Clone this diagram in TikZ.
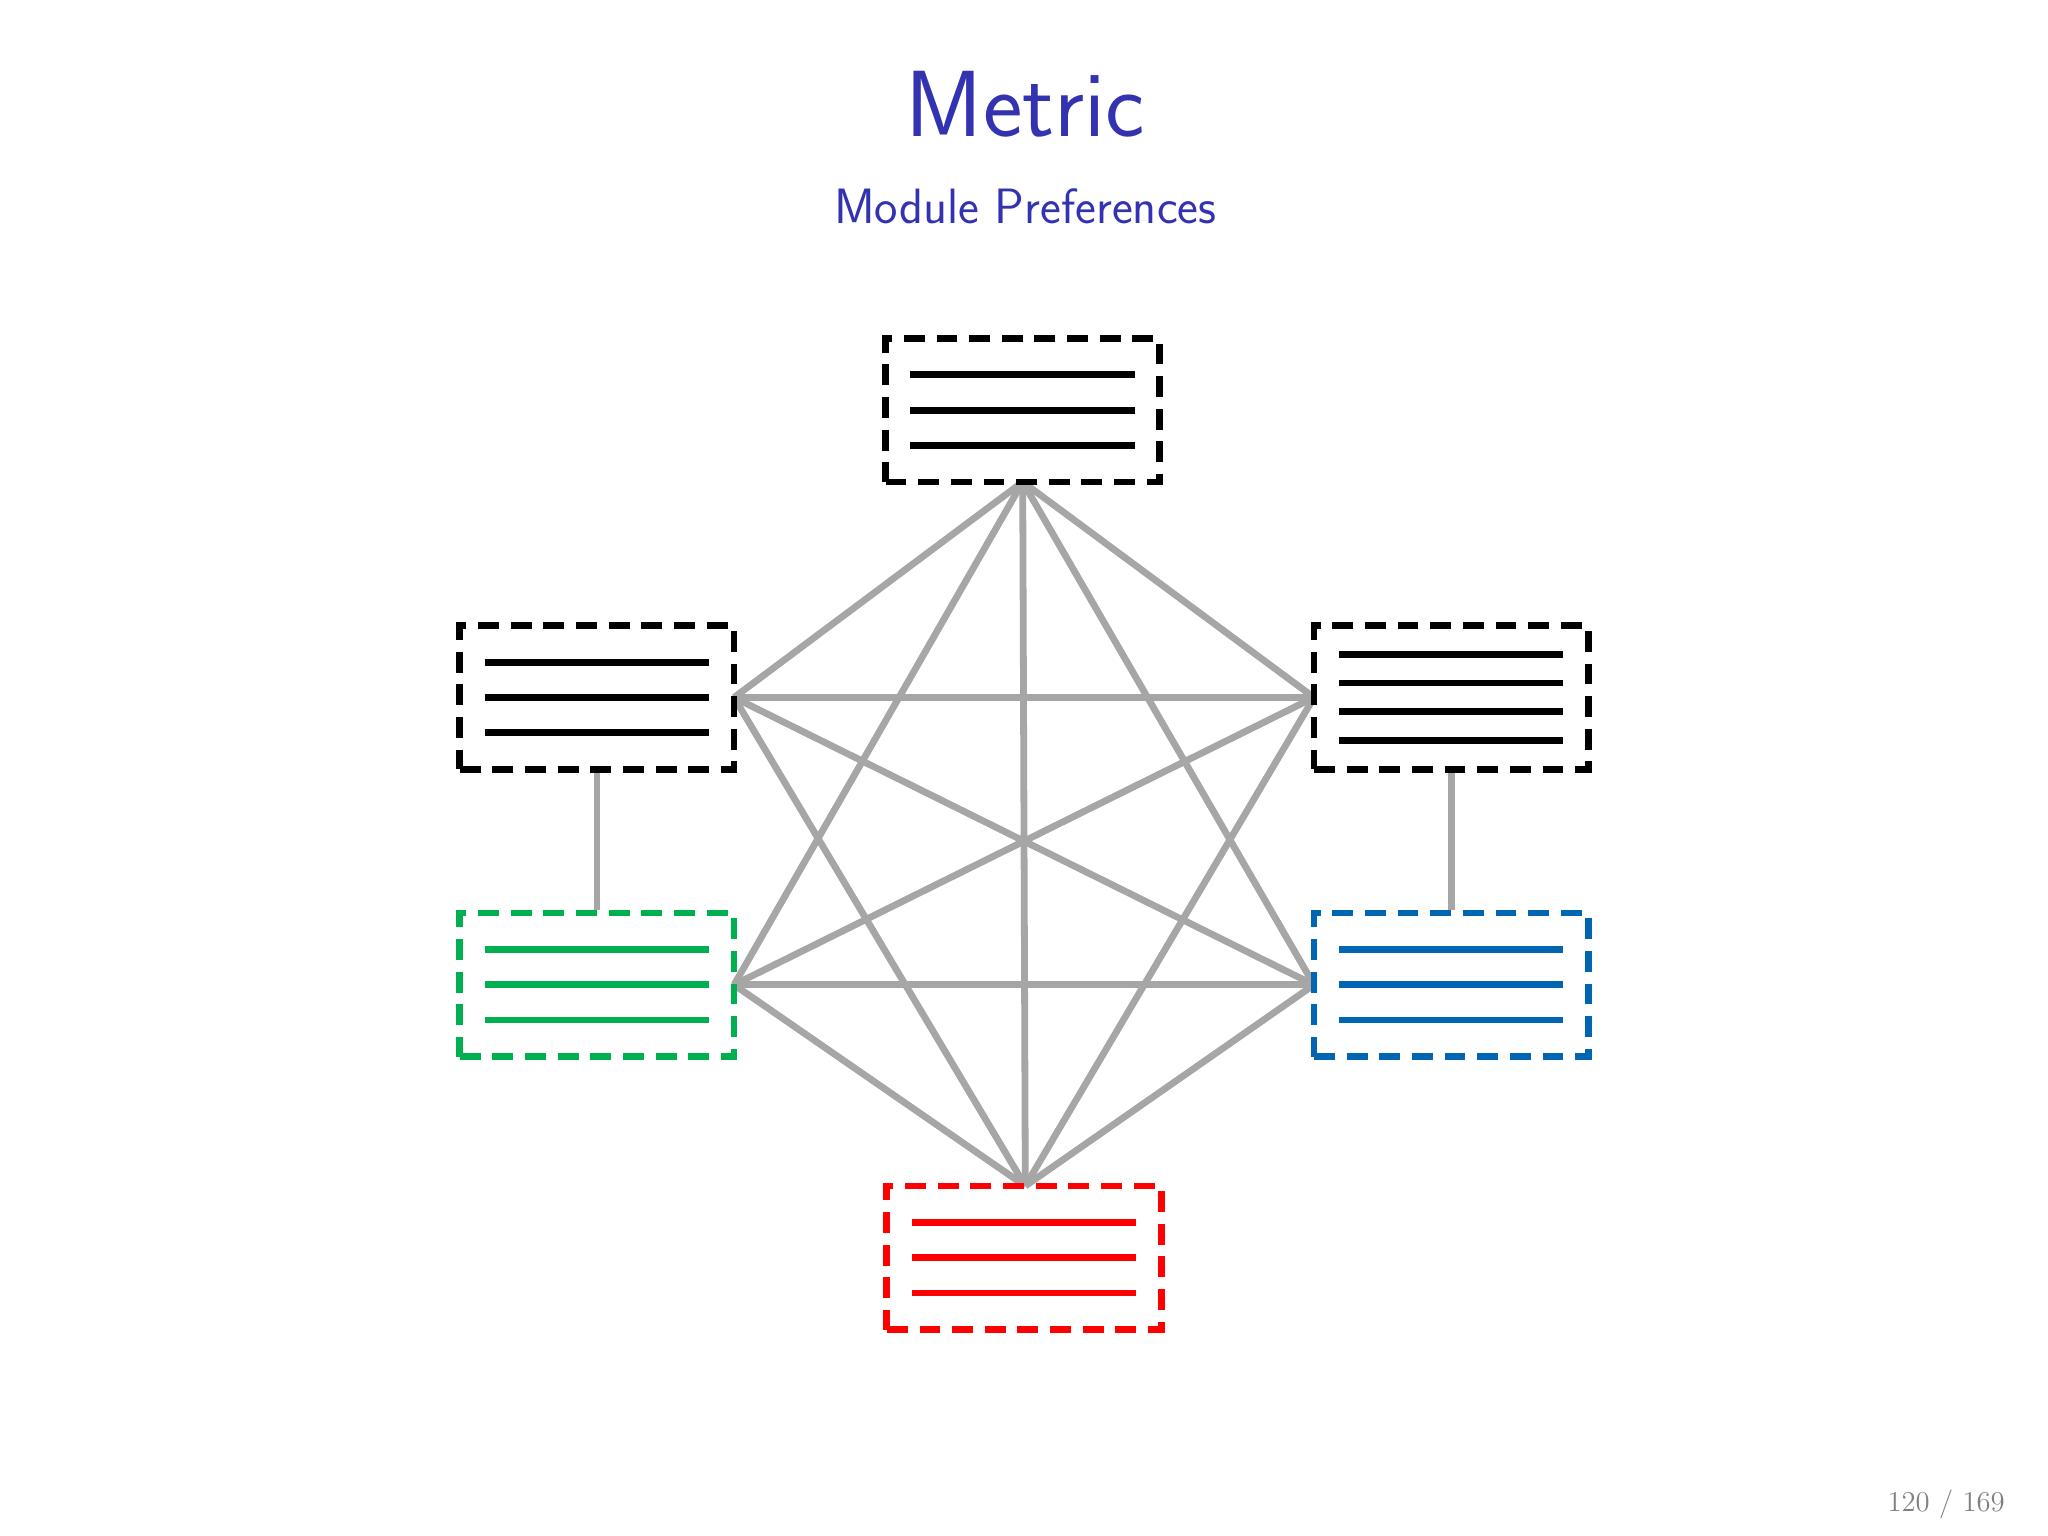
\documentclass[tikz,border=0pt]{standalone}
\usepackage{xcolor}
\definecolor{btitle}{RGB}{51,51,178}
\definecolor{edgegray}{RGB}{166,166,166}
\definecolor{mgreen}{RGB}{0,176,80}
\definecolor{mblue}{RGB}{0,102,180}
\definecolor{mred}{RGB}{255,0,0}
\begin{document}
\begin{tikzpicture}[x=0.5pt,y=-0.5pt,
  modbox/.style={draw=#1,line width=2.6pt,dash pattern=on 8pt off 4.5pt,minimum width=105pt,minimum height=55pt,inner sep=0pt},
  txtline/.style={draw=#1,line width=2.6pt},
  conn/.style={draw=edgegray,line width=2.6pt}]
\useasboundingbox (0,0) rectangle (1568,1176);
\node[font=\sffamily\fontsize{36}{40}\selectfont,text=btitle] (title) at (785,80) {Metric};
\node[font=\sffamily\fontsize{19}{22}\selectfont,text=btitle] (sub) at (785,158) {Module Preferences};
\node[font=\fontsize{11}{13}\selectfont,text=gray] (pg) at (1490,1152) {120 / 169};
% edges first
\coordinate (T) at (783,369);
\coordinate (L) at (562,534);
\coordinate (R) at (1006,534);
\coordinate (G) at (562,754);
\coordinate (B) at (1006,754);
\coordinate (D) at (785,908);
\foreach \a/\b in {T/L,T/R,T/G,T/B,T/D,L/R,L/B,L/D,R/G,R/D,G/B,G/D,B/D}
  \draw[conn] (\a) -- (\b);
\node[modbox=black] (top) at (783,314) {};
\node[modbox=black] (lu) at (457,534) {};
\node[modbox=black] (ru) at (1111,534) {};
\node[modbox=mgreen] (gr) at (457,754) {};
\node[modbox=mblue] (bl) at (1111,754) {};
\node[modbox=mred] (rd) at (784,963) {};
\draw[conn] (lu.south) -- (gr.north);
\draw[conn] (ru.south) -- (bl.north);
\foreach \n/\c in {top/black,lu/black,gr/mgreen,bl/mblue,rd/mred}
  \foreach \dy in {-27,0,27}
    \draw[txtline=\c] ([xshift=-43pt,yshift=\dy*0.5pt]\n.center) -- ([xshift=43pt,yshift=\dy*0.5pt]\n.center);
\foreach \dy in {-33,-11,11,33}
  \draw[txtline=black] ([xshift=-43pt,yshift=\dy*0.5pt]ru.center) -- ([xshift=43pt,yshift=\dy*0.5pt]ru.center);
\end{tikzpicture}
\end{document}
